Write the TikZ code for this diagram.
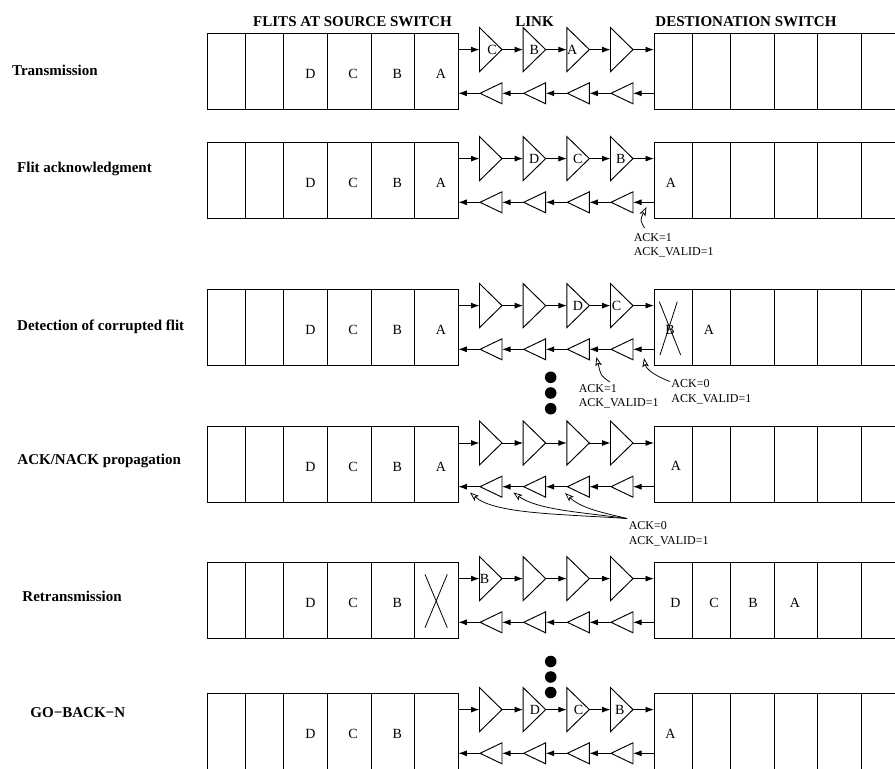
\documentclass[tikz,border=0pt]{standalone}
\usepackage{fontspec}
\setmainfont{Liberation Serif}
\usetikzlibrary{arrows.meta}
\tikzset{
  cell/.style={draw, inner sep=0pt, outer sep=0pt, minimum height=76pt, anchor=north west},
  tri/.style={draw, line join=miter},
  flow/.style={-{Latex[length=8.5pt,width=6pt]}},
  note/.style={-{Stealth[open,length=9pt,width=6.5pt,inset=2pt]}, line width=0.75pt},
  lbl/.style={font=\fontsize{15}{18}\selectfont\bfseries, inner sep=0pt},
  flit/.style={font=\fontsize{14}{16}\selectfont, inner sep=0pt},
  ann/.style={font=\fontsize{12}{14}\selectfont, inner sep=0pt, anchor=west},
  dotc/.style={fill=black, circle, inner sep=0pt, minimum size=11.6pt},
  crossline/.style={line width=0.8pt},
}
\begin{document}
\begin{tikzpicture}[x=1pt,y=-1pt,line width=0.95pt]
\useasboundingbox (0,0) rectangle (895,769);
\clip (0,0) rectangle (895,769);
% headers
\node[lbl,anchor=base] (h1) at (352.5,26) {FLITS AT SOURCE SWITCH};
\node[lbl,anchor=base] (h2) at (534.5,26) {LINK};
\node[lbl,anchor=base] (h3) at (746,26) {DESTIONATION SWITCH};
% row labels
\node[lbl,anchor=west] (r1) at (11.7,70) {Transmission};
\node[lbl,anchor=west] (r2) at (16.7,169.3) {Flit acknowledgment};
\node[lbl,anchor=west] (r3) at (16.7,326.7) {Detection of corrupted flit};
\node[lbl,anchor=west] (r4) at (17,461) {ACK/NACK propagation};
\node[lbl,anchor=west] (r5) at (22,596) {Retransmission};
\node[lbl,anchor=west] (r6) at (30,713) {GO−BACK−N};
% rows
\foreach \rw/\ty in {1/33.3,2/142.3,3/289.3,4/426.7,5/562.3,6/693.3}{
  \pgfmathsetmacro\fy{\ty+16.3}
  \pgfmathsetmacro\by{\ty+60}
  \foreach \ci/\cx/\cw in {1/207.3/38.4,2/245.7/38,3/283.7/43.6,4/327.3/43.7,5/371/43.7,6/414.7/43.6}
    \node[cell,minimum width=\cw pt] (s\rw c\ci) at (\cx,\ty) {};
  \foreach \ci/\cx/\cw in {1/654/38.3,2/692.3/38.2,3/730.5/43.7,4/774.2/43.5,5/817.7/44,6/861.7/43.6}
    \node[cell,minimum width=\cw pt] (d\rw c\ci) at (\cx,\ty) {};
  \foreach \k in {0,1,2,3}{
    \pgfmathsetmacro\fb{479.5+43.67*\k}
    \pgfmathsetmacro\bt{480+43.67*\k}
    \draw[tri] (\fb,\fy-22) -- (\fb+22.5,\fy) -- (\fb,\fy+22) -- cycle;
    \draw[tri] (\bt+22,\by-10.5) -- (\bt,\by) -- (\bt+22,\by+10.5) -- cycle;
    \coordinate (fb\rw\k) at (\fb,\fy);
    \coordinate (ft\rw\k) at (\fb+22.5,\fy);
    \coordinate (bb\rw\k) at (\bt+22,\by);
    \coordinate (bt\rw\k) at (\bt,\by);
  }
  \draw[flow] (s\rw c6.east |- fb\rw0) -- (fb\rw0);
  \foreach \k/\n in {0/1,1/2,2/3} \draw[flow] (ft\rw\k) -- (fb\rw\n);
  \draw[flow] (ft\rw3) -- (d\rw c1.west |- ft\rw3);
  \draw[flow] (d\rw c1.west |- bb\rw3) -- (bb\rw3);
  \foreach \k/\n in {3/2,2/1,1/0} \draw[flow] (bt\rw\k) -- (bb\rw\n);
  \draw[flow] (bt\rw0) -- (s\rw c6.east |- bt\rw0);
}
% source letters
\foreach \rw in {1,2,3,4,5,6}{
  \node[flit] (sD\rw) at ([xshift=5pt,yshift=-2.4pt]s\rw c3.center) {D};
  \node[flit] (sC\rw) at ([xshift=4pt,yshift=-2.4pt]s\rw c4.center) {C};
  \node[flit] (sB\rw) at ([xshift=4.5pt,yshift=-2.4pt]s\rw c5.center) {B};
}
\foreach \rw in {1,2,3,4}
  \node[flit] (sA\rw) at ([xshift=4.5pt,yshift=-2.4pt]s\rw c6.center) {A};
% link letters
\node[flit] (l1C) at ([xshift=12.6pt]fb10) {C};
\node[flit] (l1B) at ([xshift=11pt]fb11) {B};
\node[flit] (l1A) at ([xshift=5.4pt]fb12) {A};
\node[flit] (l2D) at ([xshift=11pt]fb21) {D};
\node[flit] (l2C) at ([xshift=11pt]fb22) {C};
\node[flit] (l2B) at ([xshift=10.3pt]fb23) {B};
\node[flit] (l3D) at ([xshift=11pt]fb32) {D};
\node[flit] (l3C) at ([xshift=6pt]fb33) {C};
\node[flit] (l5B) at ([xshift=5pt]fb50) {B};
\node[flit] (l6D) at ([xshift=11.7pt]fb61) {D};
\node[flit] (l6C) at ([xshift=11.6pt]fb62) {C};
\node[flit] (l6B) at ([xshift=9.3pt]fb63) {B};
% destination letters
\node[flit] (d2A) at (671,182.7) {A};
\node[flit] (d3B) at (670,330) {B};
\node[flit] (d3A) at (709,330) {A};
\node[flit] (d4A) at (676,465.7) {A};
\node[flit] (d5D) at (675.5,602.7) {D};
\node[flit] (d5C) at (714,602.7) {C};
\node[flit] (d5B) at (753,602.7) {B};
\node[flit] (d5A) at (795,602.7) {A};
\node[flit] (d6A) at (670.5,734) {A};
% crosses
\draw[crossline] (659.3,301.7) -- (680.7,355);
\draw[crossline] (677.3,301.7) -- (660,355);
\draw[crossline] (425,574.3) -- (447.3,627.7);
\draw[crossline] (447.3,574.3) -- (425,627.7);
% dots
\foreach \j/\yy in {1/377.3,2/393,3/408.7,4/661.5,5/677,6/692.5}
  \node[dotc] (dot\j) at (550.7,\yy) {};
% annotations row 2
\node[ann] (a2a) at (633.3,237.7) {ACK=1};
\node[ann] (a2b) at (633.3,252.5) {ACK\_VALID=1};
\coordinate (a2s) at (644.5,228);
\coordinate (a2t) at (646.5,207);
\draw[note] (a2s) .. controls (640,220) .. (a2t);
% annotations row 3
\node[ann] (a3a) at (578.3,388.3) {ACK=1};
\node[ann] (a3b) at (578.3,403.5) {ACK\_VALID=1};
\node[ann] (a3c) at (671,384) {ACK=0};
\node[ann] (a3d) at (671,399) {ACK\_VALID=1};
\coordinate (a3s1) at (610,382);
\coordinate (a3t1) at (596.5,357);
\coordinate (a3s2) at (670,381.5);
\coordinate (a3t2) at (644,358);
\draw[note] (a3s1) .. controls (601,376) .. (a3t1);
\draw[note] (a3s2) .. controls (655,376) and (646,369) .. (a3t2);
% annotations row 4
\node[ann] (a4a) at (628.3,526) {ACK=0};
\node[ann] (a4b) at (628.3,541.7) {ACK\_VALID=1};
\coordinate (a4s) at (627,518.5);
\coordinate (a4t1) at (470,492.5);
\coordinate (a4t2) at (513.3,492.5);
\coordinate (a4t3) at (565,493);
\draw[note] (a4s) .. controls (560,514) and (495,514) .. (a4t1);
\draw[note] (a4s) .. controls (580,512) and (538,510) .. (a4t2);
\draw[note] (a4s) .. controls (605,513) and (582,509) .. (a4t3);
\end{tikzpicture}
\end{document}
